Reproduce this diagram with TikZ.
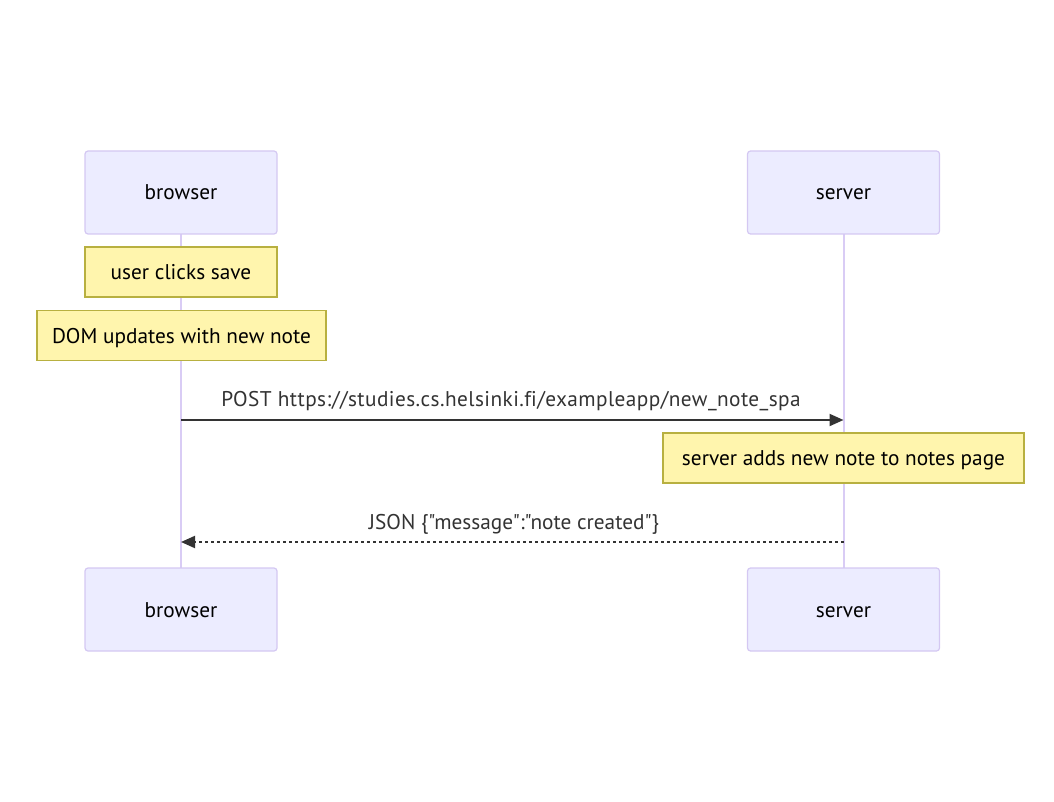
\documentclass[tikz,border=0pt]{standalone}
\usepackage{fontspec}
\setmainfont{PT Sans}[Ligatures={TeXOff,CommonOff}]
\usetikzlibrary{arrows.meta}
\definecolor{actorfill}{HTML}{ECECFF}
\definecolor{actorline}{HTML}{D4C8F2}
\definecolor{lifeline}{HTML}{D9CCF5}
\definecolor{notefill}{HTML}{FFF5AD}
\definecolor{noteline}{HTML}{B8B040}
\definecolor{msgline}{HTML}{333333}
\tikzset{
  txt/.style={font=\fontsize{21.3}{25}\selectfont, text height=17pt, text depth=2pt},
  actor/.style={txt, draw=actorline, line width=1.2pt, fill=actorfill, rounded corners=3pt,
    minimum width=192pt, minimum height=83pt, text=black},
  note/.style={txt, draw=noteline, line width=1.2pt, fill=notefill,
    minimum height=50pt, text=black},
  life/.style={draw=lifeline, line width=2pt},
  msg/.style={draw=msgline, line width=2pt, -{Triangle[length=14pt,width=12pt]}},
  msglabel/.style={font=\fontsize{21.3}{25}\selectfont, text=msgline, anchor=base}
}
\begin{document}
\begin{tikzpicture}[x=1pt,y=-1pt]
  \useasboundingbox (0,0) rectangle (1054,802);
  % lifelines
  \coordinate (bt) at (181,234);
  \coordinate (bb) at (181,568);
  \coordinate (st) at (843.5,234);
  \coordinate (sb) at (843.5,568);
  \draw[life] (bt) -- (bb);
  \draw[life] (st) -- (sb);
  % participants
  \node[actor] (browserTop) at (181,192.5) {browser};
  \node[actor] (serverTop) at (843.5,192.5) {server};
  \node[actor] (browserBot) at (181,609.5) {browser};
  \node[actor] (serverBot) at (843.5,609.5) {server};
  % notes
  \node[note, minimum width=192pt] (n1) at (181,272) {user clicks save};
  \node[note, minimum width=289pt] (n2) at (181.5,335.5) {DOM updates with new note};
  % message 1
  \coordinate (m1s) at (181,420);
  \coordinate (m1e) at (843.5,420);
  \draw[msg] (m1s) -- (m1e);
  \node[msglabel, font=\fontsize{21.3}{25}\selectfont\addfontfeature{LetterSpace=2}] (l1) at (511,406)
    {POST https://studies.cs.helsinki.f\kern0pt i/exampleapp/new\_note\_spa};
  \node[note, minimum width=361pt] (n3) at (843.5,458) {server adds new note to notes page};
  % message 2
  \coordinate (m2s) at (843.5,542);
  \coordinate (m2e) at (181,542);
  \draw[msg, dash pattern=on 3pt off 3pt] (m2s) -- (m2e);
  \node[msglabel] (l2) at (514,529) {JSON \{"message":"note created"\}};
\end{tikzpicture}
\end{document}
